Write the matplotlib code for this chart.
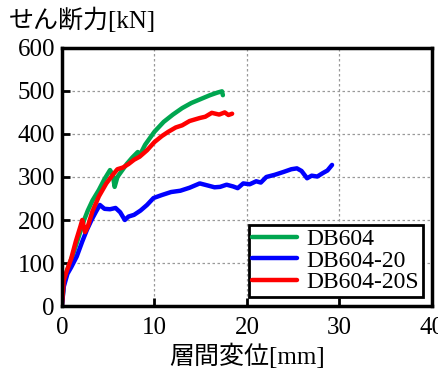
import matplotlib
matplotlib.use("Agg")
import matplotlib.pyplot as plt

# DB604
g_x = [0, 0.2, 0.6, 1.2, 1.8, 2.4, 2.8, 3.3, 4.0, 4.6, 5.2, 5.5, 5.7, 6.0, 6.5, 7.0, 7.6, 8.2, 8.4,
       9.0, 10.0, 11.0, 12.0, 13.0, 14.0, 15.0, 16.0, 16.8, 17.3, 17.4]
g_y = [0, 50, 85, 120, 160, 200, 222, 245, 270, 295, 316, 305, 277, 300, 315, 330, 345, 358, 350,
       375, 405, 428, 445, 460, 472, 481, 490, 496, 499, 490]
# DB604-20
b_x = [0, 0.2, 0.6, 1.0, 1.6, 2.2, 2.7, 3.2, 3.7, 4.1, 4.6, 5.2, 5.8, 6.3, 6.8, 7.2, 7.8, 8.5, 9.2,
       9.9, 10.8, 11.8, 12.8, 13.8, 14.9, 15.8, 16.5, 17.1, 17.8, 18.5, 19.0, 19.6, 20.3, 21.0,
       21.5, 22.1, 23.0, 24.0, 24.8, 25.4, 25.9, 26.5, 27.0, 27.6, 28.2, 28.7, 29.2]
b_y = [0, 45, 75, 90, 115, 150, 177, 200, 220, 235, 226, 225, 228, 218, 200, 208, 212, 222, 235,
       251, 258, 265, 268, 275, 285, 280, 276, 277, 282, 278, 274, 285, 283, 290,
       287, 300, 305, 312, 318, 320, 314, 297, 303, 301, 309, 315, 328]
# DB604-20S
r_x = [0, 0.2, 0.5, 1.0, 1.5, 2.0, 2.2, 2.5, 2.8, 3.3, 4.0, 4.8, 5.5, 6.0, 6.6, 7.2, 7.8, 8.4,
       9.2, 10.0, 10.8, 11.5, 12.3, 13.0, 13.8, 14.9, 15.5, 16.2, 17.0, 17.6, 18.0, 18.4]
r_y = [0, 60, 80, 110, 150, 185, 200, 172, 185, 220, 255, 285, 305, 318, 322, 330, 340, 347,
       362, 381, 395, 405, 415, 420, 430, 437, 440, 449, 445, 450, 444, 447]

series = [("DB604", g_x, g_y, "#00a650"),
          ("DB604-20", b_x, b_y, "#0000ff"),
          ("DB604-20S", r_x, r_y, "#ff0000")]

x_ticks = [0, 10, 20, 30, 40]
y_ticks = [0, 100, 200, 300, 400, 500, 600]

serif = ["Liberation Serif", "Noto Sans CJK JP"]
plt.rcParams["font.family"] = serif

fig = plt.figure(figsize=(4.39, 3.71), dpi=100)
ax = fig.add_axes([0.141, 0.175, 0.843, 0.696])

for name, xs, ys, col in series:
    ax.plot(xs, ys, color=col, linewidth=3.2, label=name, solid_capstyle="round")

ax.set_xlim(0, 40)
ax.set_ylim(0, 600)
ax.set_xticks(x_ticks)
ax.set_yticks(y_ticks)
ax.tick_params(direction="in", length=6, width=2, labelsize=18, pad=5)
ax.tick_params(axis="x", pad=8)
ax.grid(True, color="#999999", linestyle=(0, (2, 2)), linewidth=0.9)
for sp in ax.spines.values():
    sp.set_linewidth(2.5)

ax.set_xlabel("層間変位[mm]", fontsize=18, labelpad=3)
fig.text(0.02, 0.945, "せん断力[kN]", fontsize=18, ha="left", va="center")

leg = ax.legend(loc="lower right", fontsize=17, handlelength=1.9, handletextpad=0.4,
                borderpad=0.15, labelspacing=0.0, fancybox=False, framealpha=1,
                borderaxespad=0.4)
leg.get_frame().set_edgecolor("black")
leg.get_frame().set_linewidth(2)

fig.savefig("out.png", dpi=100)
